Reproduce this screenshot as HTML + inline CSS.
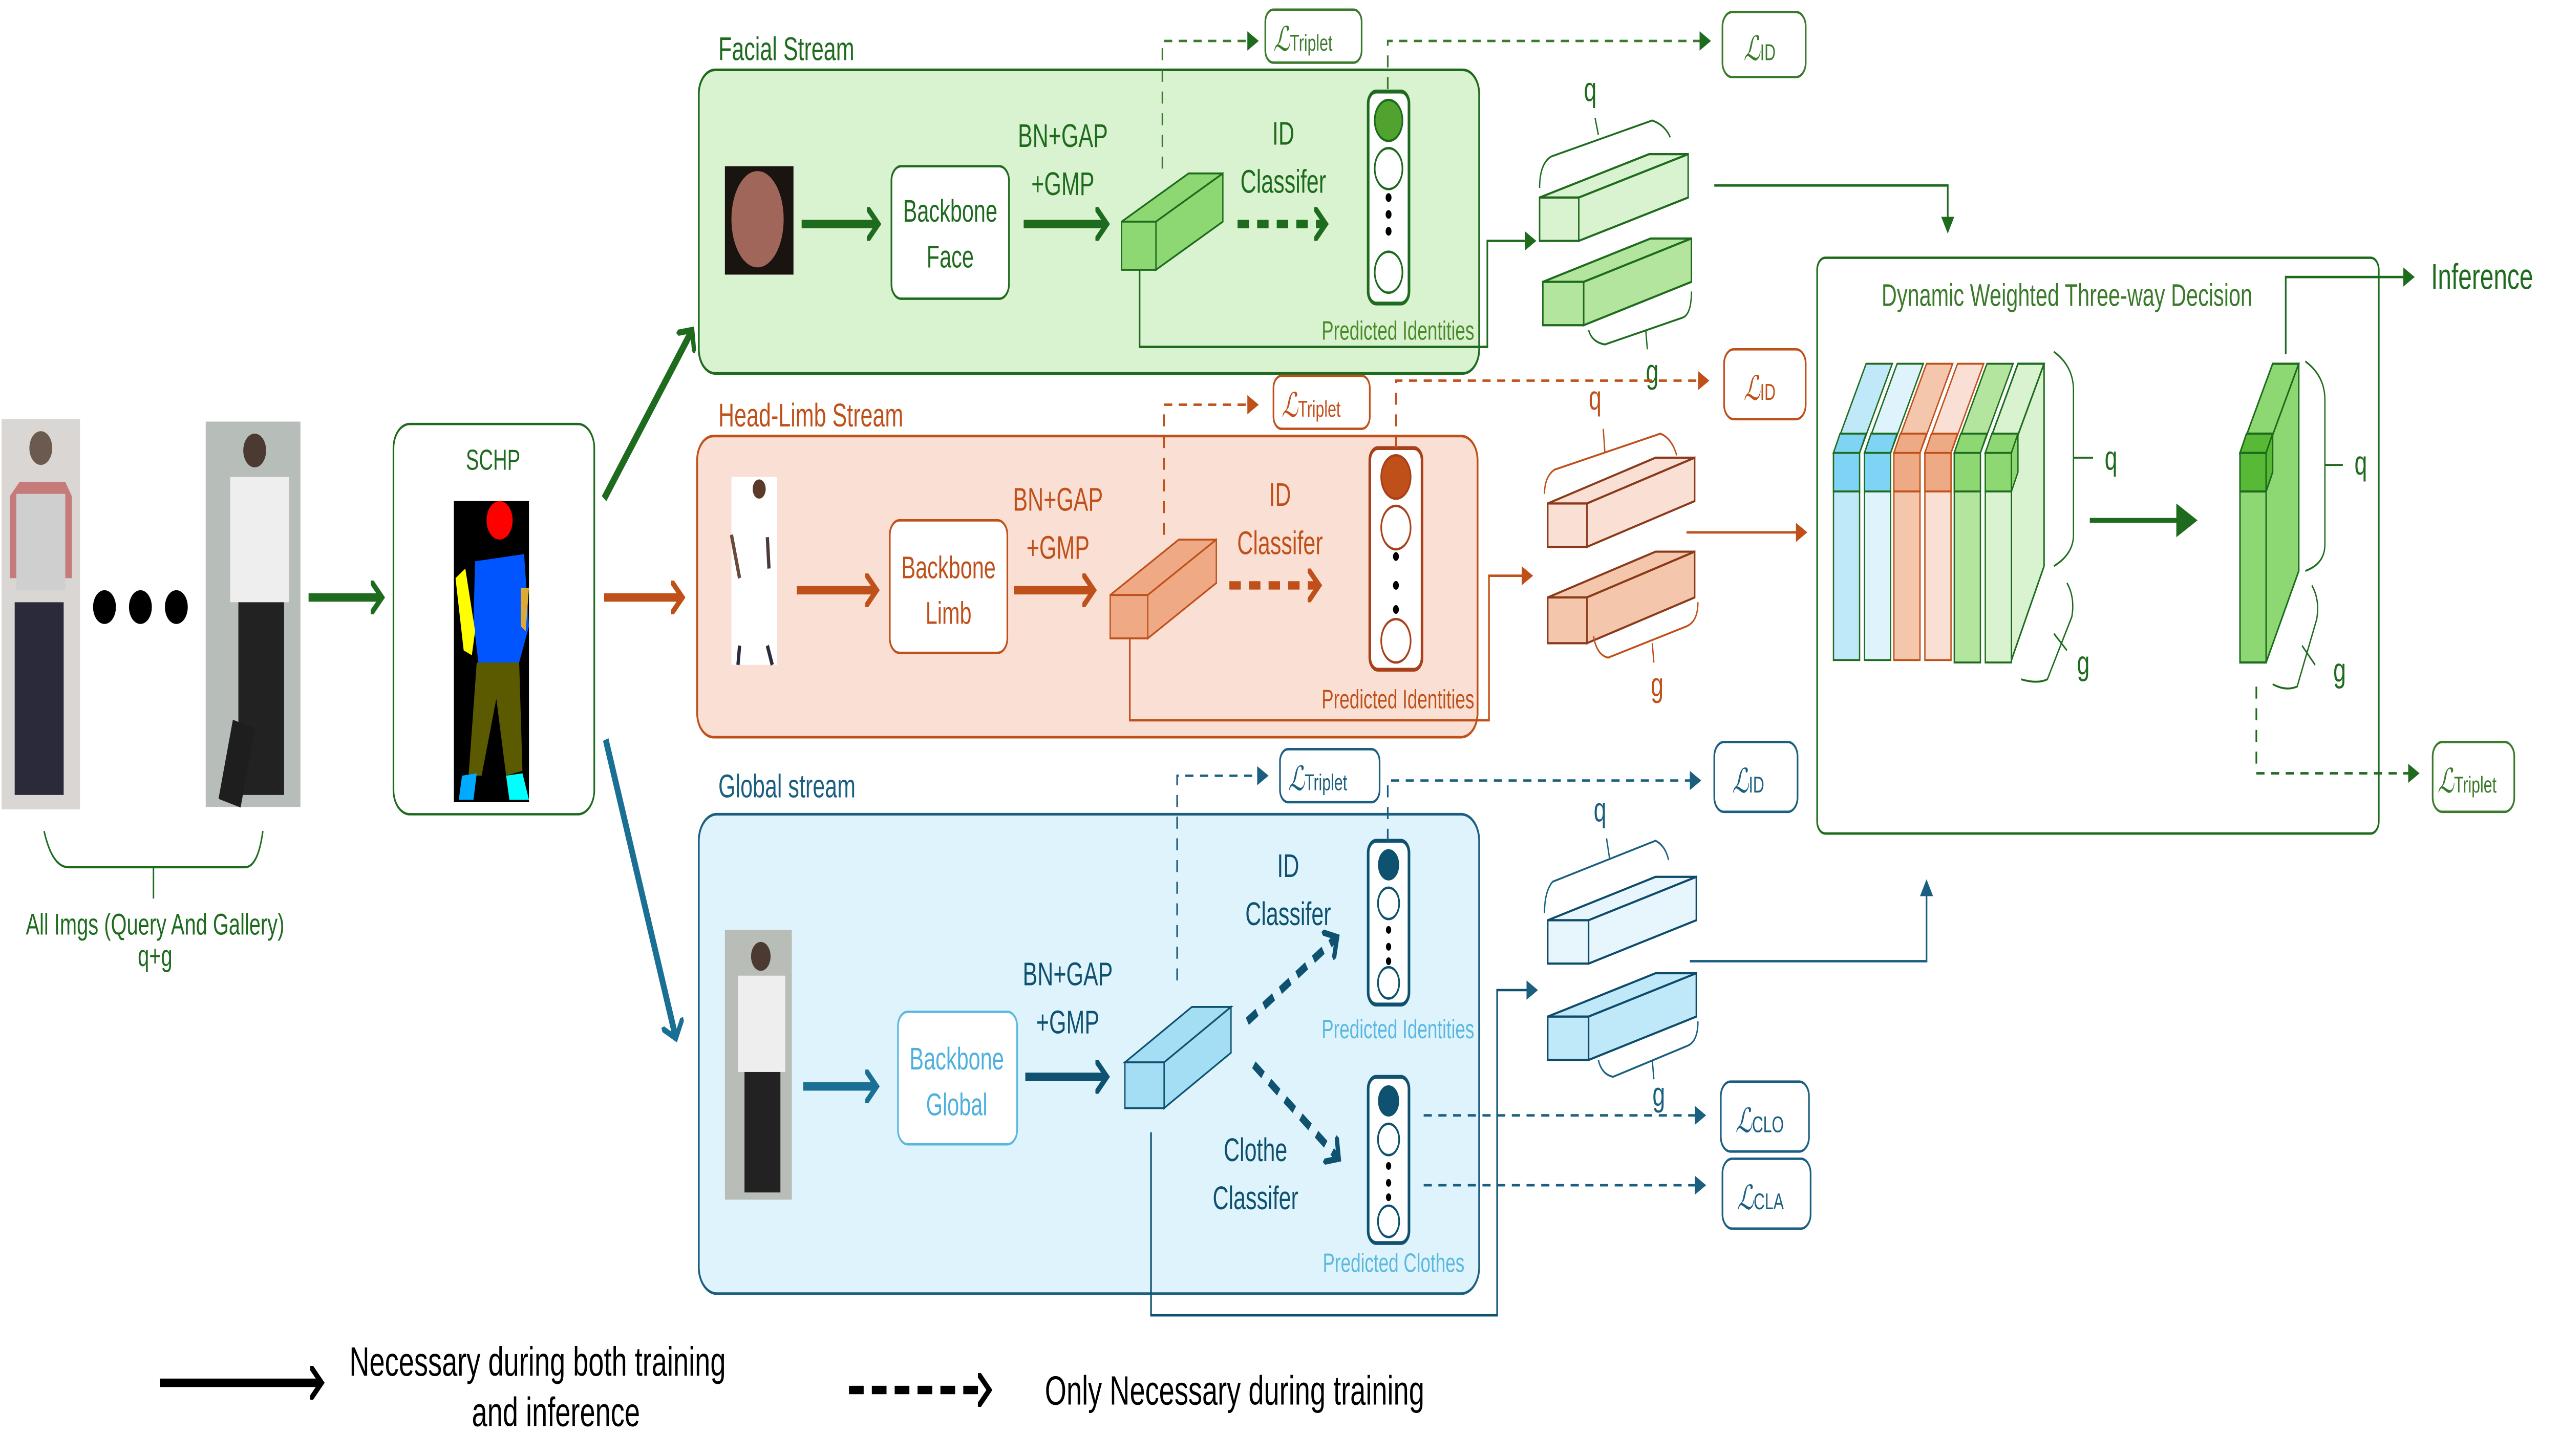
<!DOCTYPE html>
<html><head><meta charset="utf-8"><style>
html,body{margin:0;padding:0;background:#fff;width:100%;height:100%;overflow:hidden;}
svg{display:block;width:100vw;height:100vh;position:absolute;left:0;top:0;}
text{font-family:"Liberation Sans","DejaVu Sans",sans-serif;}
.L{font-family:"DejaVu Serif",serif;font-style:italic;}
</style></head><body>
<svg viewBox="0 0 1568 604.4" preserveAspectRatio="none" xmlns="http://www.w3.org/2000/svg">
<defs>
<marker id="ag" markerWidth="8" markerHeight="8" refX="6" refY="4" orient="auto" markerUnits="userSpaceOnUse"><path d="M0,0 L7,4 L0,8 Z" fill="#1e6b1e"/></marker>
<marker id="ao" markerWidth="8" markerHeight="8" refX="6" refY="4" orient="auto" markerUnits="userSpaceOnUse"><path d="M0,0 L7,4 L0,8 Z" fill="#c0501a"/></marker>
<marker id="ab" markerWidth="8" markerHeight="8" refX="6" refY="4" orient="auto" markerUnits="userSpaceOnUse"><path d="M0,0 L7,4 L0,8 Z" fill="#1a5e80"/></marker>
<marker id="agB" markerWidth="14" markerHeight="14" refX="10" refY="7" orient="auto" markerUnits="userSpaceOnUse"><path d="M0,0 L13,7 L0,14 Z" fill="#1e6b1e"/></marker>
<marker id="cg" markerWidth="10" markerHeight="14" refX="7" refY="7" orient="auto" markerUnits="userSpaceOnUse"><path d="M1,1 L7,7 L1,13" fill="none" stroke="#1e6b1e" stroke-width="2.6" stroke-linecap="round"/></marker>
<marker id="co" markerWidth="10" markerHeight="14" refX="7" refY="7" orient="auto" markerUnits="userSpaceOnUse"><path d="M1,1 L7,7 L1,13" fill="none" stroke="#c0501a" stroke-width="2.6" stroke-linecap="round"/></marker>
<marker id="cb" markerWidth="10" markerHeight="14" refX="7" refY="7" orient="auto" markerUnits="userSpaceOnUse"><path d="M1,1 L7,7 L1,13" fill="none" stroke="#1a6f95" stroke-width="2.6" stroke-linecap="round"/></marker>
<marker id="cbd" markerWidth="10" markerHeight="14" refX="7" refY="7" orient="auto" markerUnits="userSpaceOnUse"><path d="M1,1 L7,7 L1,13" fill="none" stroke="#0e5270" stroke-width="2.6" stroke-linecap="round"/></marker>
<marker id="ck" markerWidth="10" markerHeight="14" refX="7" refY="7" orient="auto" markerUnits="userSpaceOnUse"><path d="M1,1 L7,7 L1,13" fill="none" stroke="#000" stroke-width="2.6" stroke-linecap="round"/></marker>
</defs>

<rect x="1" y="174" width="48" height="162" fill="#d9d6d4"/>
<path d="M6,206 L12,200 L40,200 L44,206 L44,240 L6,240Z" fill="#b73e3e" opacity="0.6"/>
<rect x="10" y="205" width="30" height="40" fill="#cfcfcf"/>
<circle cx="25" cy="186" r="7" fill="#6b5a50"/>
<rect x="9" y="250" width="30" height="80" fill="#2a2a3a"/>
<rect x="126" y="175" width="58" height="160" fill="#b7bdb9"/>
<circle cx="156" cy="187" r="7" fill="#4a3a32"/>
<rect x="141" y="198" width="36" height="52" fill="#eeeeee"/>
<rect x="146" y="250" width="28" height="80" fill="#222"/>
<rect x="138" y="300" width="14" height="34" fill="#1e1e1e" transform="rotate(15 145 317)"/>
<circle cx="64" cy="252" r="7" fill="#000"/><circle cx="86" cy="252" r="7" fill="#000"/><circle cx="108" cy="252" r="7" fill="#000"/>
<path d="M27,345 Q32,360 42,360 L150,360 Q158,360 161,345 M94,360 L94,373" fill="none" stroke="#1e6b1e" stroke-width="0.9"/>
<text x="95" y="388" font-size="12.5" fill="#1e6b1e" text-anchor="middle">All Imgs (Query And Gallery)</text>
<text x="95" y="401" font-size="12.5" fill="#1e6b1e" text-anchor="middle">q+g</text>
<line x1="189" y1="248" x2="234" y2="248" stroke="#1e6b1e" stroke-width="3.5" marker-end="url(#cg)"/>

<rect x="241" y="176" width="123" height="162" rx="10" fill="#fff" stroke="#1e6b1e" stroke-width="1"/>
<text x="302" y="195" font-size="12" fill="#1e6b1e" text-anchor="middle">SCHP</text>
<rect x="278" y="208" width="46" height="125" fill="#000"/>
<circle cx="306" cy="216" r="8" fill="#ff0000"/>
<path d="M291,233 L321,230 L324,260 L318,275 L293,275 L290,258Z" fill="#0055ff"/>
<path d="M279,240 L285,236 L291,262 L289,272 L284,270Z" fill="#ffff00"/>
<path d="M319,244 L324,244 L322,262 L319,260Z" fill="#ddaa33"/>
<path d="M292,275 L318,275 L320,320 L310,322 L304,290 L295,322 L287,322Z" fill="#5c5a00"/>
<path d="M283,322 L292,321 L290,332 L281,332Z" fill="#00aaff"/>
<path d="M310,322 L320,321 L324,332 L312,332Z" fill="#00ffff"/>

<line x1="370" y1="207" x2="424" y2="137" stroke="#1e6b1e" stroke-width="3.5" marker-end="url(#cg)"/>
<line x1="370" y1="248" x2="418" y2="248" stroke="#c0501a" stroke-width="3.5" marker-end="url(#co)"/>
<line x1="371" y1="307" x2="414" y2="431" stroke="#1a6f95" stroke-width="3.5" marker-end="url(#cb)"/>

<text x="440" y="25" font-size="13.5" fill="#1e6b1e">Facial Stream</text>
<rect x="428" y="29" width="478" height="126" rx="10" fill="#d9f2d0" stroke="#1e6b1e" stroke-width="1.1"/>
<rect x="444" y="69" width="42" height="45" fill="#1a1410"/>
<ellipse cx="464" cy="91" rx="16" ry="20" fill="#a0665a"/>
<line x1="491" y1="93" x2="538" y2="93" stroke="#1e6b1e" stroke-width="3.5" marker-end="url(#cg)"/>
<rect x="546" y="69" width="72" height="55" rx="6" fill="#fff" stroke="#1e6b1e"/>
<text x="582" y="92" font-size="13" fill="#1e6b1e" text-anchor="middle">Backbone</text>
<text x="582" y="111" font-size="13" fill="#1e6b1e" text-anchor="middle">Face</text>
<text x="651" y="61" font-size="13.5" fill="#1e6b1e" text-anchor="middle">BN+GAP</text>
<text x="651" y="81" font-size="13.5" fill="#1e6b1e" text-anchor="middle">+GMP</text>
<line x1="627" y1="93" x2="678" y2="93" stroke="#1e6b1e" stroke-width="3.5" marker-end="url(#cg)"/>
<polygon points="687,92 708,92 749,72 728,72" fill="#8dd872" stroke="#1e6b1e" stroke-width="0.8"/>
<polygon points="708,92 749,72 749,92 708,112" fill="#8dd872" stroke="#1e6b1e" stroke-width="0.8"/>
<rect x="687" y="92" width="21" height="20" fill="#8dd872" stroke="#1e6b1e" stroke-width="0.8"/>
<text x="786" y="60" font-size="13.5" fill="#1e6b1e" text-anchor="middle">ID</text>
<text x="786" y="80" font-size="13.5" fill="#1e6b1e" text-anchor="middle">Classifer</text>
<line x1="758" y1="93" x2="812" y2="93" stroke="#1e6b1e" stroke-width="3.5" stroke-dasharray="7,5" marker-end="url(#cg)"/>
<rect x="838" y="38" width="25" height="88" rx="5" fill="#fff" stroke="#1e6b1e" stroke-width="1.6"/>
<circle cx="850.5" cy="50" r="8.5" fill="#4fa32e" stroke="#1e6b1e"/>
<circle cx="850.5" cy="70" r="8.5" fill="#fff" stroke="#1e6b1e"/>
<circle cx="850.5" cy="82" r="1.8" fill="#000"/><circle cx="850.5" cy="89" r="1.8" fill="#000"/><circle cx="850.5" cy="96" r="1.8" fill="#000"/>
<circle cx="850.5" cy="113" r="8.5" fill="#fff" stroke="#1e6b1e"/>
<text x="903" y="141" font-size="11" fill="#4a8a2a" text-anchor="end">Predicted Identities</text>
<polyline points="698,112 698,144 911,144 911,100 940,100" fill="none" stroke="#1e6b1e" stroke-width="1" marker-end="url(#ag)"/>
<polyline points="712,70 712,17 770,17" fill="none" stroke="#3a7a2a" stroke-width="1" stroke-dasharray="5,4" marker-end="url(#ag)"/>
<rect x="775" y="4" width="59" height="22" rx="5" fill="#fff" stroke="#3a7a2a"/>
<text x="780" y="21" fill="#3a7a2a"><tspan class="L" font-size="14">ℒ</tspan><tspan font-size="9.5">Triplet</tspan></text>
<polyline points="850,37 850,17 1047,17" fill="none" stroke="#3a7a2a" stroke-width="1" stroke-dasharray="5,4" marker-end="url(#ag)"/>
<rect x="1055" y="5" width="51" height="27" rx="6" fill="#fff" stroke="#3a7a2a"/>
<text x="1068" y="25" fill="#3a7a2a"><tspan class="L" font-size="14">ℒ</tspan><tspan font-size="9.5">ID</tspan></text>
<polygon points="943,82 967,82 1034,64 1010,64" fill="#d9f2d0" stroke="#1e6b1e" stroke-width="0.9"/>
<polygon points="967,82 1034,64 1034,82 967,100" fill="#d9f2d0" stroke="#1e6b1e" stroke-width="0.9"/>
<rect x="943" y="82" width="24" height="18" fill="#d9f2d0" stroke="#1e6b1e" stroke-width="0.9"/>
<polygon points="945,117 970,117 1036,99 1011,99" fill="#b3e59f" stroke="#1e6b1e" stroke-width="0.9"/>
<polygon points="970,117 1036,99 1036,117 970,135" fill="#b3e59f" stroke="#1e6b1e" stroke-width="0.9"/>
<rect x="945" y="117" width="25" height="18" fill="#b3e59f" stroke="#1e6b1e" stroke-width="0.9"/>
<path d="M943,78 Q943,68 950,65 L1012,50 Q1020,52 1023,57 M979,56 L977,49" fill="none" stroke="#1e6b1e" stroke-width="0.8"/>
<text x="974" y="42" font-size="14" fill="#1e6b1e" text-anchor="middle">q</text>
<path d="M1036,121 Q1036,131 1030,132 L983,143 Q975,142 973,137 M1008,137 L1009,145" fill="none" stroke="#1e6b1e" stroke-width="0.8"/>
<text x="1012" y="159" font-size="14" fill="#1e6b1e" text-anchor="middle">g</text>
<polyline points="1050,77 1193,77 1193,96" fill="none" stroke="#1e6b1e" stroke-width="1" marker-end="url(#ag)"/>

<text x="440" y="177" font-size="13.5" fill="#c0501a">Head-Limb Stream</text>
<rect x="427" y="181" width="478" height="125" rx="10" fill="#fae0d4" stroke="#c0501a" stroke-width="1.1"/>
<rect x="448" y="198" width="28" height="78" fill="#fff"/>
<circle cx="465" cy="203" r="4" fill="#5a3a2a"/>
<path d="M448,222 L453,240" stroke="#6a4a3a" stroke-width="2" fill="none"/>
<line x1="470" y1="223" x2="471" y2="236" stroke="#4a3a3a" stroke-width="2"/>
<line x1="453" y1="268" x2="452" y2="276" stroke="#2a2a3a" stroke-width="2"/><line x1="470" y1="268" x2="473" y2="276" stroke="#2a2a3a" stroke-width="2"/>
<line x1="488" y1="245" x2="537" y2="245" stroke="#c0501a" stroke-width="3.5" marker-end="url(#co)"/>
<rect x="545" y="216" width="72" height="55" rx="6" fill="#fff" stroke="#c0501a"/>
<text x="581" y="240" font-size="13" fill="#c0501a" text-anchor="middle">Backbone</text>
<text x="581" y="259" font-size="13" fill="#c0501a" text-anchor="middle">Limb</text>
<text x="648" y="212" font-size="13.5" fill="#c0501a" text-anchor="middle">BN+GAP</text>
<text x="648" y="232" font-size="13.5" fill="#c0501a" text-anchor="middle">+GMP</text>
<line x1="621" y1="245" x2="670" y2="245" stroke="#c0501a" stroke-width="3.5" marker-end="url(#co)"/>
<polygon points="680,247 703,247 745,224 722,224" fill="#efa984" stroke="#c0501a" stroke-width="0.8"/>
<polygon points="703,247 745,224 745,242 703,265" fill="#efa984" stroke="#c0501a" stroke-width="0.8"/>
<rect x="680" y="247" width="23" height="18" fill="#efa984" stroke="#c0501a" stroke-width="0.8"/>
<text x="784" y="210" font-size="13.5" fill="#c0501a" text-anchor="middle">ID</text>
<text x="784" y="230" font-size="13.5" fill="#c0501a" text-anchor="middle">Classifer</text>
<line x1="753" y1="243" x2="808" y2="243" stroke="#c0501a" stroke-width="3.5" stroke-dasharray="7,5" marker-end="url(#co)"/>
<rect x="839" y="186" width="32" height="92" rx="5" fill="#fff" stroke="#a8401a" stroke-width="1.6"/>
<circle cx="855" cy="198" r="9" fill="#c0501a" stroke="#a8401a"/>
<circle cx="855" cy="219" r="9" fill="#fff" stroke="#a8401a"/>
<circle cx="855" cy="231" r="1.8" fill="#000"/><circle cx="855" cy="243" r="1.8" fill="#000"/><circle cx="855" cy="253" r="1.8" fill="#000"/>
<circle cx="855" cy="266" r="9" fill="#fff" stroke="#a8401a"/>
<text x="903" y="294" font-size="11" fill="#c0501a" text-anchor="end">Predicted Identities</text>
<polyline points="692,265 692,299 912,299 912,239 938,239" fill="none" stroke="#c0501a" stroke-width="1" marker-end="url(#ao)"/>
<polyline points="713,222 713,168 770,168" fill="none" stroke="#c0501a" stroke-width="1" stroke-dasharray="5,4" marker-end="url(#ao)"/>
<rect x="780" y="156" width="59" height="22" rx="5" fill="#fff" stroke="#c0501a"/>
<text x="785" y="173" fill="#c0501a"><tspan class="L" font-size="14">ℒ</tspan><tspan font-size="9.5">Triplet</tspan></text>
<polyline points="855,186 855,158 1046,158" fill="none" stroke="#c0501a" stroke-width="1" stroke-dasharray="5,4" marker-end="url(#ao)"/>
<rect x="1056" y="145" width="50" height="29" rx="6" fill="#fff" stroke="#c0501a"/>
<text x="1068" y="166" fill="#c0501a"><tspan class="L" font-size="14">ℒ</tspan><tspan font-size="9.5">ID</tspan></text>
<polygon points="948,209 972,209 1038,190 1014,190" fill="#fae0d4" stroke="#8a3a1a" stroke-width="0.9"/>
<polygon points="972,209 1038,190 1038,208 972,227" fill="#fae0d4" stroke="#8a3a1a" stroke-width="0.9"/>
<rect x="948" y="209" width="24" height="18" fill="#fae0d4" stroke="#8a3a1a" stroke-width="0.9"/>
<polygon points="948,248 972,248 1038,229 1014,229" fill="#f4c6ab" stroke="#8a3a1a" stroke-width="0.9"/>
<polygon points="972,248 1038,229 1038,248 972,267" fill="#f4c6ab" stroke="#8a3a1a" stroke-width="0.9"/>
<rect x="948" y="248" width="24" height="19" fill="#f4c6ab" stroke="#8a3a1a" stroke-width="0.9"/>
<path d="M946,205 Q946,198 952,195 L1017,180 Q1024,182 1027,189 M983,188 L982,178" fill="none" stroke="#c0501a" stroke-width="0.8"/>
<text x="977" y="170" font-size="14" fill="#c0501a" text-anchor="middle">q</text>
<path d="M1040,250 Q1040,258 1033,260 L985,273 Q978,272 976,264 M1012,267 L1013,275" fill="none" stroke="#c0501a" stroke-width="0.8"/>
<text x="1015" y="289" font-size="14" fill="#c0501a" text-anchor="middle">g</text>
<line x1="1033" y1="221" x2="1106" y2="221" stroke="#c0501a" stroke-width="1" marker-end="url(#ao)"/>

<text x="440" y="331" font-size="13.5" fill="#1a5e80">Global stream</text>
<rect x="428" y="338" width="478" height="199" rx="11" fill="#dff3fc" stroke="#1a5e80" stroke-width="1.1"/>
<rect x="444" y="386" width="41" height="112" fill="#b8bdb8"/>
<circle cx="466" cy="397" r="6" fill="#4a3a32"/>
<rect x="452" y="405" width="29" height="40" fill="#eee"/>
<rect x="456" y="445" width="22" height="50" fill="#222"/>
<line x1="492" y1="451" x2="537" y2="451" stroke="#1a6f95" stroke-width="3.5" marker-end="url(#cb)"/>
<rect x="550" y="420" width="73" height="55" rx="6" fill="#fff" stroke="#5ab8e0"/>
<text x="586" y="444" font-size="13" fill="#4eb0dc" text-anchor="middle">Backbone</text>
<text x="586" y="463" font-size="13" fill="#4eb0dc" text-anchor="middle">Global</text>
<text x="654" y="409" font-size="13.5" fill="#0e5270" text-anchor="middle">BN+GAP</text>
<text x="654" y="429" font-size="13.5" fill="#0e5270" text-anchor="middle">+GMP</text>
<line x1="628" y1="447" x2="678" y2="447" stroke="#0e5270" stroke-width="3.5" marker-end="url(#cbd)"/>
<polygon points="689,441 713,441 754,418 730,418" fill="#a3def5" stroke="#0e5270" stroke-width="0.8"/>
<polygon points="713,441 754,418 754,437 713,460" fill="#a3def5" stroke="#0e5270" stroke-width="0.8"/>
<rect x="689" y="441" width="24" height="19" fill="#a3def5" stroke="#0e5270" stroke-width="0.8"/>
<line x1="764" y1="424" x2="819" y2="389" stroke="#0e5270" stroke-width="3.5" stroke-dasharray="7,5" marker-end="url(#cbd)"/>
<line x1="768" y1="442" x2="820" y2="481" stroke="#0e5270" stroke-width="3.5" stroke-dasharray="7,5" marker-end="url(#cbd)"/>
<text x="789" y="364" font-size="13.5" fill="#0e5270" text-anchor="middle">ID</text>
<text x="789" y="384" font-size="13.5" fill="#0e5270" text-anchor="middle">Classifer</text>
<text x="769" y="482" font-size="13.5" fill="#0e5270" text-anchor="middle">Clothe</text>
<text x="769" y="502" font-size="13.5" fill="#0e5270" text-anchor="middle">Classifer</text>
<rect x="838" y="349" width="25" height="68" rx="5" fill="#fff" stroke="#0e5270" stroke-width="1.6"/>
<circle cx="850.5" cy="359" r="6.5" fill="#0e5270"/>
<circle cx="850.5" cy="375" r="6.5" fill="#fff" stroke="#0e5270"/>
<circle cx="850.5" cy="386" r="1.6" fill="#000"/><circle cx="850.5" cy="393" r="1.6" fill="#000"/><circle cx="850.5" cy="399" r="1.6" fill="#000"/>
<circle cx="850.5" cy="408" r="6.5" fill="#fff" stroke="#0e5270"/>
<text x="903" y="431" font-size="11" fill="#5ab8e0" text-anchor="end">Predicted Identities</text>
<rect x="838" y="447" width="25" height="69" rx="5" fill="#fff" stroke="#0e5270" stroke-width="1.6"/>
<circle cx="850.5" cy="457" r="6.5" fill="#0e5270"/>
<circle cx="850.5" cy="473" r="6.5" fill="#fff" stroke="#0e5270"/>
<circle cx="850.5" cy="484" r="1.6" fill="#000"/><circle cx="850.5" cy="491" r="1.6" fill="#000"/><circle cx="850.5" cy="497" r="1.6" fill="#000"/>
<circle cx="850.5" cy="507" r="6.5" fill="#fff" stroke="#0e5270"/>
<text x="897" y="528" font-size="11" fill="#5ab8e0" text-anchor="end">Predicted Clothes</text>
<polyline points="705,470 705,546 917,546 917,411 941,411" fill="none" stroke="#0e5270" stroke-width="1" marker-end="url(#ab)"/>
<polyline points="721,407 721,322 776,322" fill="none" stroke="#1a5e80" stroke-width="1" stroke-dasharray="5,4" marker-end="url(#ab)"/>
<rect x="784" y="311" width="61" height="22" rx="5" fill="#fff" stroke="#1a5e80"/>
<text x="789" y="328" fill="#1a5e80"><tspan class="L" font-size="14">ℒ</tspan><tspan font-size="9.5">Triplet</tspan></text>
<polyline points="850,349 850,324 1041,324" fill="none" stroke="#1a5e80" stroke-width="1" stroke-dasharray="5,4" marker-end="url(#ab)"/>
<rect x="1050" y="308" width="51" height="29" rx="6" fill="#fff" stroke="#1a5e80"/>
<text x="1061" y="329" fill="#1a5e80"><tspan class="L" font-size="14">ℒ</tspan><tspan font-size="9.5">ID</tspan></text>
<line x1="872" y1="463" x2="1044" y2="463" stroke="#1a5e80" stroke-width="1" stroke-dasharray="5,4" marker-end="url(#ab)"/>
<line x1="872" y1="492" x2="1044" y2="492" stroke="#1a5e80" stroke-width="1" stroke-dasharray="5,4" marker-end="url(#ab)"/>
<rect x="1054" y="449" width="54" height="29" rx="6" fill="#fff" stroke="#1a5e80"/>
<text x="1063" y="470" fill="#1a5e80"><tspan class="L" font-size="14">ℒ</tspan><tspan font-size="9.5">CLO</tspan></text>
<rect x="1055" y="481" width="54" height="29" rx="6" fill="#fff" stroke="#1a5e80"/>
<text x="1064" y="502" fill="#1a5e80"><tspan class="L" font-size="14">ℒ</tspan><tspan font-size="9.5">CLA</tspan></text>
<polygon points="948,382 973,382 1039,364 1014,364" fill="#e6f6fc" stroke="#0e4a6a" stroke-width="0.9"/>
<polygon points="973,382 1039,364 1039,382 973,400" fill="#e6f6fc" stroke="#0e4a6a" stroke-width="0.9"/>
<rect x="948" y="382" width="25" height="18" fill="#e6f6fc" stroke="#0e4a6a" stroke-width="0.9"/>
<polygon points="948,422 973,422 1039,404 1014,404" fill="#bfe8f8" stroke="#0e4a6a" stroke-width="0.9"/>
<polygon points="973,422 1039,404 1039,422 973,440" fill="#bfe8f8" stroke="#0e4a6a" stroke-width="0.9"/>
<rect x="948" y="422" width="25" height="18" fill="#bfe8f8" stroke="#0e4a6a" stroke-width="0.9"/>
<path d="M946,379 Q946,370 951,366 L1014,349 Q1020,351 1022,357 M986,357 L984,348" fill="none" stroke="#1a5e80" stroke-width="0.8"/>
<text x="980" y="341" font-size="14" fill="#1a5e80" text-anchor="middle">q</text>
<path d="M1040,424 Q1040,432 1034,434 L988,447 Q981,446 979,440 M1012,440 L1013,448" fill="none" stroke="#1a5e80" stroke-width="0.8"/>
<text x="1016" y="459" font-size="14" fill="#1a5e80" text-anchor="middle">g</text>
<polyline points="1035,399 1180,399 1180,366" fill="none" stroke="#1a5e80" stroke-width="1" marker-end="url(#ab)"/>

<rect x="1113" y="107" width="344" height="239" rx="5" fill="#fff" stroke="#1e6b1e" stroke-width="1"/>
<text x="1266" y="127" font-size="13" fill="#3a7a2a" text-anchor="middle">Dynamic Weighted Three-way Decision</text>
<g stroke="#1e6b1e" stroke-width="0.9">
<polygon points="1216,188 1232,188 1252,151 1236,151" fill="#d9f2d0"/>
<polygon points="1232,188 1252,151 1252,235 1232,274" fill="#d9f2d0"/>
</g>
<g stroke="#1e6b1e" stroke-width="0.8">
<polygon points="1123,188 1139,188 1159,151 1143,151" fill="#bfe8f8"/>
<rect x="1123" y="188" width="16" height="86" fill="#bfe8f8"/><rect x="1123" y="188" width="16" height="16" fill="#7fd3f5"/>
<polygon points="1123,188 1139,188 1143,180 1127,180" fill="#7fd3f5"/>
<polygon points="1142,188 1158,188 1178,151 1162,151" fill="#dff3fc"/>
<rect x="1142" y="188" width="16" height="86" fill="#dff3fc"/><rect x="1142" y="188" width="16" height="16" fill="#7fd3f5"/>
<polygon points="1142,188 1158,188 1162,180 1146,180" fill="#7fd3f5"/>
<polygon points="1160,188 1176,188 1196,151 1180,151" fill="#f4c6ab" stroke="#c0501a"/>
<rect x="1160" y="188" width="16" height="86" fill="#f4c6ab" stroke="#c0501a"/><rect x="1160" y="188" width="16" height="16" fill="#eeaa84" stroke="#c0501a"/>
<polygon points="1160,188 1176,188 1180,180 1164,180" fill="#eeaa84" stroke="#c0501a"/>
<polygon points="1179,188 1195,188 1215,151 1199,151" fill="#fae0d4" stroke="#c0501a"/>
<rect x="1179" y="188" width="16" height="86" fill="#fae0d4" stroke="#c0501a"/><rect x="1179" y="188" width="16" height="16" fill="#eeaa84" stroke="#c0501a"/>
<polygon points="1179,188 1195,188 1199,180 1183,180" fill="#eeaa84" stroke="#c0501a"/>
<polygon points="1197,188 1213,188 1233,151 1217,151" fill="#b3e59f"/>
<rect x="1197" y="188" width="16" height="87" fill="#b3e59f"/><rect x="1197" y="188" width="16" height="16" fill="#8dd872"/>
<polygon points="1197,188 1213,188 1217,180 1201,180" fill="#8dd872"/>
<rect x="1216" y="188" width="16" height="87" fill="#d9f2d0"/><rect x="1216" y="188" width="16" height="16" fill="#8dd872"/>
<polygon points="1216,188 1232,188 1236,180 1220,180" fill="#8dd872"/>
<polygon points="1232,204 1232,188 1236,180 1236,196" fill="#8dd872"/>
</g>
<path d="M1258,146 Q1270,152 1270,162 L1270,222 Q1270,230 1258,235 M1270,190 L1282,190" fill="none" stroke="#1e6b1e" stroke-width="0.8"/>
<text x="1293" y="195" font-size="14" fill="#1e6b1e" text-anchor="middle">q</text>
<path d="M1266,242 Q1271,248 1269,256 L1254,282 Q1248,284 1238,282 M1258,263 L1266,270" fill="none" stroke="#1e6b1e" stroke-width="0.8"/>
<text x="1276" y="280" font-size="14" fill="#1e6b1e" text-anchor="middle">g</text>
<line x1="1280" y1="216" x2="1343" y2="216" stroke="#1e6b1e" stroke-width="2" marker-end="url(#agB)"/>
<g stroke="#1e6b1e" stroke-width="0.9">
<polygon points="1372,188 1388,188 1408,151 1392,151" fill="#8dd872"/>
<polygon points="1388,188 1408,151 1408,237 1388,275" fill="#8dd872"/>
<rect x="1372" y="188" width="16" height="87" fill="#8dd872"/>
<rect x="1372" y="188" width="16" height="16" fill="#57b936"/>
<polygon points="1372,188 1388,188 1392,180 1376,180" fill="#57b936"/>
<polygon points="1388,188 1392,180 1392,196 1388,204" fill="#57b936"/>
</g>
<path d="M1412,150 Q1424,156 1424,166 L1424,226 Q1424,234 1412,237 M1424,193 L1435,193" fill="none" stroke="#1e6b1e" stroke-width="0.8"/>
<text x="1446" y="197" font-size="14" fill="#1e6b1e" text-anchor="middle">q</text>
<path d="M1416,243 Q1421,249 1419,257 L1407,285 Q1400,287 1392,284 M1410,268 L1418,276" fill="none" stroke="#1e6b1e" stroke-width="0.8"/>
<text x="1433" y="283" font-size="14" fill="#1e6b1e" text-anchor="middle">g</text>
<polyline points="1400,147 1400,115 1478,115" fill="none" stroke="#1e6b1e" stroke-width="1" marker-end="url(#ag)"/>
<text x="1489" y="120" font-size="15" fill="#1e6b1e">Inference</text>
<polyline points="1382,285 1382,321 1481,321" fill="none" stroke="#1e6b1e" stroke-width="1" stroke-dasharray="5,4" marker-end="url(#ag)"/>
<rect x="1490" y="308" width="50" height="29" rx="6" fill="#fff" stroke="#3a7a2a"/>
<text x="1493" y="329" fill="#3a7a2a"><tspan class="L" font-size="14">ℒ</tspan><tspan font-size="9.5">Triplet</tspan></text>

<line x1="98" y1="574" x2="197" y2="574" stroke="#000" stroke-width="3.5" marker-end="url(#ck)"/>
<text x="214" y="571" font-size="17" fill="#000">Necessary during both training</text>
<text x="289" y="592" font-size="17" fill="#000">and inference</text>
<line x1="520" y1="577" x2="606" y2="577" stroke="#000" stroke-width="3.5" stroke-dasharray="9,5" marker-end="url(#ck)"/>
<text x="640" y="583" font-size="17" fill="#000">Only Necessary during training</text>
</svg>
</body></html>
